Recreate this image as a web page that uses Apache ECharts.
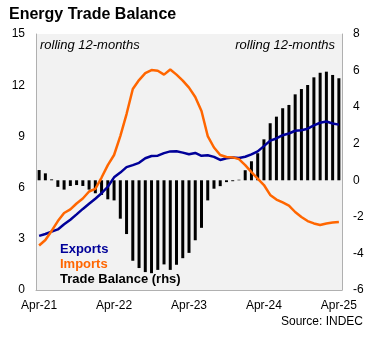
<!DOCTYPE html>
<html>
<head>
<meta charset="utf-8">
<script src="https://cdn.jsdelivr.net/npm/echarts@6/dist/echarts.min.js"></script>
<style>
  html, body { margin: 0; padding: 0; background: #ffffff; }
  #chart { width: 375px; height: 338px; }
</style>
</head>
<body>
<div id="chart"></div>
<script>
// Monthly categories, rolling 12-month sums (USD bn)
const months = [
  'Apr-21','May-21','Jun-21','Jul-21','Aug-21','Sep-21','Oct-21','Nov-21','Dec-21','Jan-22','Feb-22','Mar-22',
  'Apr-22','May-22','Jun-22','Jul-22','Aug-22','Sep-22','Oct-22','Nov-22','Dec-22','Jan-23','Feb-23','Mar-23',
  'Apr-23','May-23','Jun-23','Jul-23','Aug-23','Sep-23','Oct-23','Nov-23','Dec-23','Jan-24','Feb-24','Mar-24',
  'Apr-24','May-24','Jun-24','Jul-24','Aug-24','Sep-24','Oct-24','Nov-24','Dec-24','Jan-25','Feb-25','Mar-25',
  'Apr-25'
];

const exportsBn = [
  3.17, 3.28, 3.42, 3.55, 3.85, 4.12, 4.43, 4.75, 5.05, 5.35, 5.67, 6.05,
  6.60, 6.88, 7.20, 7.32, 7.45, 7.72, 7.85, 7.87, 8.02, 8.12, 8.13, 8.05,
  7.95, 8.03, 7.86, 7.90, 7.80, 7.62, 7.72, 7.77, 7.74, 7.81, 7.95, 8.12,
  8.43, 8.75, 8.88, 9.07, 9.17, 9.33, 9.36, 9.45, 9.64, 9.80, 9.87, 9.76,
  9.69
];

const importsBn = [
  2.61, 2.93, 3.46, 4.04, 4.51, 4.72, 5.07, 5.36, 5.77, 5.92, 6.59, 7.32,
  7.91, 9.02, 10.31, 11.78, 12.30, 12.71, 12.89, 12.85, 12.62, 12.92, 12.62, 12.27,
  11.86, 11.31, 10.49, 9.02, 8.35, 7.91, 7.79, 7.77, 7.67, 7.32, 6.91, 6.53,
  6.15, 5.57, 5.30, 5.13, 4.95, 4.57, 4.28, 4.04, 3.90, 3.81, 3.90, 3.95,
  3.98
];

const balanceBn = [
  0.56, 0.38, 0.05, -0.36, -0.51, -0.31, -0.26, -0.31, -0.51, -0.71, -0.80, -1.04,
  -1.10, -2.10, -2.94, -4.40, -4.80, -5.02, -5.08, -4.90, -4.60, -4.90, -4.62, -4.26,
  -3.97, -3.28, -2.60, -1.10, -0.46, -0.32, -0.10, -0.05, 0.03, 0.55, 1.04, 1.48,
  2.24, 3.12, 3.48, 3.94, 4.12, 4.70, 4.99, 5.21, 5.63, 5.88, 5.94, 5.76,
  5.58
];

const shownMonthLabels = ['Apr-21', 'Apr-22', 'Apr-23', 'Apr-24', 'Apr-25'];

const FONT = '"Liberation Sans", Arial, sans-serif';
const NAVY = '#000099';
const ORANGE = '#ff6600';
const AXIS_GRAY = '#b0b0b0';

const chart = echarts.init(document.getElementById('chart'), null, { renderer: 'canvas' });

chart.setOption({
  animation: false,
  backgroundColor: '#ffffff',
  textStyle: { fontFamily: FONT },
  title: {
    text: 'Energy Trade Balance',
    left: 4,
    top: 2,
    textStyle: { fontFamily: FONT, fontSize: 16, fontWeight: 'bold', color: '#000000' }
  },
  grid: {
    left: 36, right: 33, top: 34, bottom: 48,
    show: true, backgroundColor: '#f2f2f2', borderWidth: 0
  },
  xAxis: {
    type: 'category',
    data: months,
    boundaryGap: true,
    axisLine: { show: true, lineStyle: { color: AXIS_GRAY, width: 1 } },
    axisTick: { show: false },
    splitLine: { show: false },
    axisLabel: {
      interval: 0,
      margin: 10,
      fontFamily: FONT, fontSize: 12, color: '#000000',
      formatter: (v) => (shownMonthLabels.includes(v) ? v : '')
    }
  },
  yAxis: [
    {
      type: 'value', min: 0, max: 15, interval: 3,
      axisLine: { show: true, lineStyle: { color: AXIS_GRAY, width: 1 } },
      axisTick: { show: false },
      splitLine: { show: false },
      axisLabel: { margin: 11, fontFamily: FONT, fontSize: 12, color: '#000000' }
    },
    {
      type: 'value', min: -6, max: 8, interval: 2, position: 'right',
      axisLine: { show: true, onZero: false, lineStyle: { color: AXIS_GRAY, width: 1 } },
      axisTick: { show: false },
      splitLine: { show: false },
      axisLabel: { margin: 11, fontFamily: FONT, fontSize: 12, color: '#000000' }
    }
  ],
  series: [
    {
      name: 'Trade Balance (rhs)',
      type: 'bar',
      yAxisIndex: 1,
      data: balanceBn,
      barWidth: 3,
      itemStyle: { color: '#000000' },
      z: 1
    },
    {
      name: 'Exports',
      type: 'line',
      yAxisIndex: 0,
      data: exportsBn,
      symbol: 'none',
      lineStyle: { color: NAVY, width: 2.5 },
      z: 3
    },
    {
      name: 'Imports',
      type: 'line',
      yAxisIndex: 0,
      data: importsBn,
      symbol: 'none',
      lineStyle: { color: ORANGE, width: 2.5 },
      z: 4
    }
  ],
  graphic: [
    {
      type: 'text', left: 40, top: 39,
      style: { text: 'rolling 12-months', fontFamily: FONT, fontSize: 13, fontStyle: 'italic', fill: '#000000' }
    },
    {
      type: 'text', right: 40, top: 39,
      style: { text: 'rolling 12-months', fontFamily: FONT, fontSize: 13, fontStyle: 'italic', fill: '#000000' }
    },
    {
      type: 'text', left: 60, top: 243,
      style: { text: 'Exports', fontFamily: FONT, fontSize: 13, fontWeight: 'bold', fill: NAVY }
    },
    {
      type: 'text', left: 60, top: 258,
      style: { text: 'Imports', fontFamily: FONT, fontSize: 13, fontWeight: 'bold', fill: ORANGE }
    },
    {
      type: 'text', left: 60, top: 273,
      style: { text: 'Trade Balance (rhs)', fontFamily: FONT, fontSize: 13, fontWeight: 'bold', fill: '#000000' }
    },
    {
      type: 'text', right: 12, top: 316,
      style: { text: 'Source: INDEC', fontFamily: FONT, fontSize: 12, fill: '#000000' }
    }
  ]
});
</script>
</body>
</html>
